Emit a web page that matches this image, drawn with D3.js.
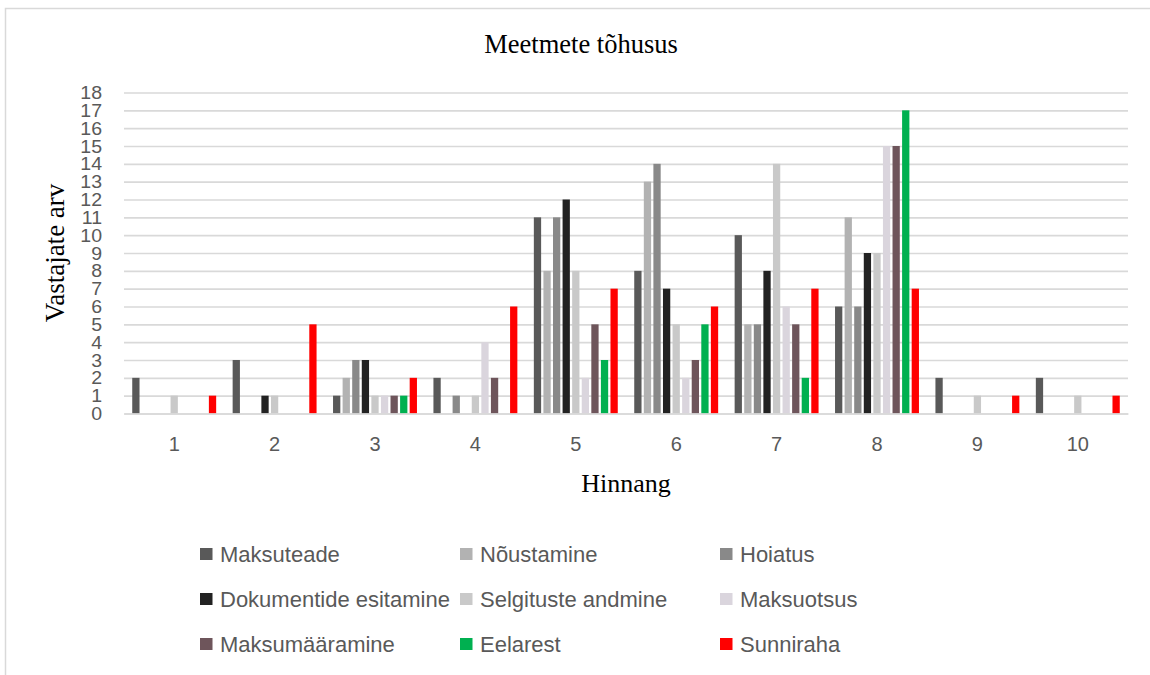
<!DOCTYPE html>
<html>
<head>
<meta charset="utf-8">
<script src="https://cdn.jsdelivr.net/npm/d3@7"></script>
<style>
  html, body { margin: 0; padding: 0; background: #fff; }
  svg { display: block; }
</style>
</head>
<body>
<svg id="chart" width="1150" height="675"></svg>
<script>
// ---- Data ----
const categories = ["1", "2", "3", "4", "5", "6", "7", "8", "9", "10"];
const seriesNames = ["Maksuteade", "Nõustamine", "Hoiatus", "Dokumentide esitamine", "Selgituste andmine", "Maksuotsus", "Maksumääramine", "Eelarest", "Sunniraha"];
const maksuteade   = [2, 3, 1, 2, 11, 8, 10, 6, 2, 2];
const noustamine   = [0, 0, 2, 0, 8, 13, 5, 11, 0, 0];
const hoiatus      = [0, 0, 3, 1, 11, 14, 5, 6, 0, 0];
const dokumentide  = [0, 1, 3, 0, 12, 7, 8, 9, 0, 0];
const selgituste   = [1, 1, 1, 1, 8, 5, 14, 9, 1, 1];
const maksuotsus   = [0, 0, 1, 4, 2, 2, 6, 15, 0, 0];
const maksumaaramine = [0, 0, 1, 2, 5, 3, 5, 15, 0, 0];
const eelarest     = [0, 0, 1, 0, 3, 5, 2, 17, 0, 0];
const sunniraha    = [1, 5, 2, 6, 7, 6, 7, 7, 1, 1];
const yTicks = [0,1,2,3,4,5,6,7,8,9,10,11,12,13,14,15,16,17,18];
const titleText = "Meetmete tõhusus";
const xTitle = "Hinnang";
const yTitle = "Vastajate arv";

const seriesValues = [maksuteade, noustamine, hoiatus, dokumentide, selgituste, maksuotsus, maksumaaramine, eelarest, sunniraha];
const colors = ["#595959", "#b2b2b2", "#898989", "#222222", "#c9c9c9", "#dad5dd", "#6e555b", "#00b050", "#ff0000"];

// ---- Layout ----
const svg = d3.select("#chart");
const plot = { left: 124, right: 1128, top: 92.5, bottom: 413.5 };
const tickFont = "'Liberation Sans', Arial, sans-serif";
const serifFont = "'Liberation Serif', 'Times New Roman', serif";

svg.append("rect").attr("width", 1150).attr("height", 675).attr("fill", "#fff");
// chart frame (top and left visible)
svg.append("path")
  .attr("d", "M5.5,676 L5.5,8.5 L1151,8.5")
  .attr("fill", "none").attr("stroke", "#d9d9d9").attr("stroke-width", 1.5);

const x0 = d3.scaleBand().domain(categories).range([plot.left, plot.right]).paddingInner(0).paddingOuter(0);
const x1 = d3.scaleBand().domain(seriesNames).range([0, x0.bandwidth()]).paddingInner(0.24).paddingOuter(0.86);
const y = d3.scaleLinear().domain([0, 18]).range([plot.bottom, plot.top]);

// gridlines
const yAxis = d3.axisLeft(y).tickValues(yTicks).tickSize(-(plot.right - plot.left)).tickPadding(22).tickFormat(d3.format("d"));
const gY = svg.append("g").attr("transform", `translate(${plot.left},0)`).call(yAxis);
gY.select(".domain").remove();
gY.selectAll(".tick line").attr("stroke", "#d9d9d9").attr("stroke-width", 1.6);
gY.selectAll(".tick text").attr("fill", "#595959").style("font-family", tickFont).style("font-size", "17px")
  .attr("transform", "scale(1.15,1.12)").attr("x", -22 / 1.15).attr("dy", "0.32em");

// bars
const groups = svg.append("g").selectAll("g")
  .data(seriesNames.map((n, i) => ({ name: n, values: seriesValues[i], color: colors[i] })))
  .join("g").attr("fill", d => d.color);
groups.selectAll("rect")
  .data(d => d.values.map((v, j) => ({ cat: categories[j], v, name: d.name })))
  .join("rect")
  .attr("x", d => x0(d.cat) + x1(d.name))
  .attr("y", d => y(d.v))
  .attr("width", x1.bandwidth())
  .attr("height", d => y(0) - y(d.v));

// x axis
const xAxis = d3.axisBottom(x0).tickSize(0).tickPadding(23);
const gX = svg.append("g").attr("transform", `translate(0,${plot.bottom})`).call(xAxis);
gX.select(".domain").attr("stroke", "#d9d9d9").attr("stroke-width", 1.6);
gX.selectAll(".tick text").attr("fill", "#595959").style("font-family", tickFont).style("font-size", "20px");

// titles
svg.append("text").attr("x", 581).attr("y", 53).attr("text-anchor", "middle")
  .style("font-family", serifFont).style("font-size", "26.5px").attr("fill", "#000").text(titleText);
svg.append("text").attr("x", 626).attr("y", 492).attr("text-anchor", "middle")
  .style("font-family", serifFont).style("font-size", "26px").attr("fill", "#000").text(xTitle);
svg.append("text").attr("transform", `translate(64,${(plot.top + plot.bottom) / 2}) rotate(-90)`).attr("text-anchor", "middle")
  .style("font-family", serifFont).style("font-size", "27px").attr("fill", "#000").text(yTitle);

// legend
const legCols = [200, 460, 720];
const legRows = [554, 599, 644];
const leg = svg.append("g").selectAll("g")
  .data(seriesNames.map((n, i) => ({ name: n, color: colors[i], i })))
  .join("g")
  .attr("transform", d => `translate(${legCols[d.i % 3]},${legRows[Math.floor(d.i / 3)]})`);
leg.append("rect").attr("x", 0).attr("y", -6).attr("width", 12.5).attr("height", 12).attr("fill", d => d.color);
leg.append("text").attr("x", 20).attr("y", 7.5).attr("fill", "#595959")
  .style("font-family", tickFont).style("font-size", "22px").text(d => d.name);
</script>
</body>
</html>
